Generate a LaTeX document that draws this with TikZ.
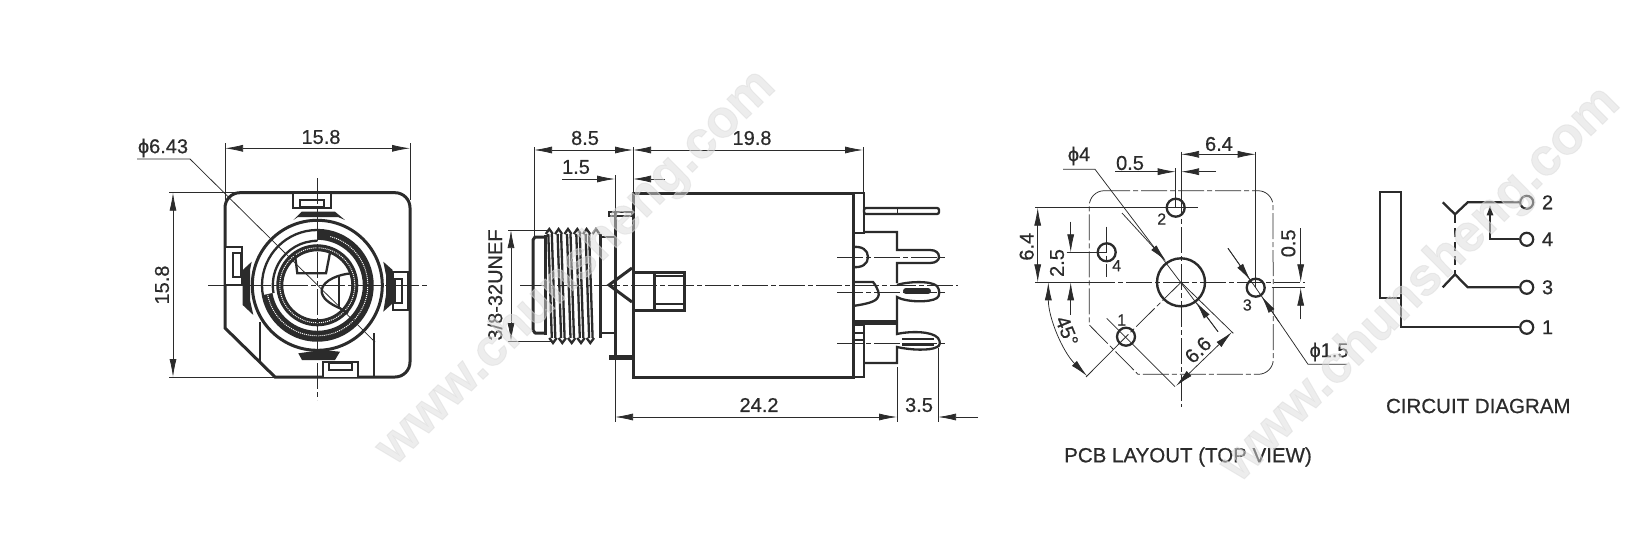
\documentclass[tikz,border=0pt]{standalone}
\usepackage{fontspec}
\setmainfont{Liberation Sans}
\newfontfamily\labelfont[FakeBold=0.6]{Liberation Sans}
\newfontfamily\markfont[UprightFont=* Bold,FakeBold=2]{Liberation Sans}
\usetikzlibrary{calc,positioning,arrows.meta}
\definecolor{inkgray}{gray}{0.17}
\tikzset{
  part/.style={line width=2.3pt},
  thick part/.style={line width=3pt},
  thin part/.style={line width=0.8pt},
  dim/.style={line width=0.75pt,{Latex[length=18pt,width=7pt]}-{Latex[length=18pt,width=7pt]}},
  dim in/.style={line width=0.75pt,-{Latex[length=18pt,width=7pt]}},
  ext/.style={line width=0.75pt},
  axis/.style={line width=0.75pt,dash pattern=on 26pt off 3pt on 5pt off 3pt},
  label/.style={inner sep=0pt,text=inkgray,font=\labelfont\fontsize{20}{20}\selectfont},
  small label/.style={inner sep=0pt,text=inkgray,font=\labelfont\fontsize{16}{16}\selectfont},
  title/.style={inner sep=0pt,text=inkgray,font=\labelfont\fontsize{20.5}{21}\selectfont},
  watermark/.style={inner sep=0pt,rotate=44.7,opacity=0.5,text=black!14,font=\markfont\fontsize{52.5}{53}\selectfont},
  pad/.style={circle,draw=inkgray,line width=2.2pt,fill=white,inner sep=0pt,minimum size=13pt},
}
\begin{document}
\begin{tikzpicture}[x=1pt,y=-1pt,color=inkgray]
	\useasboundingbox (0,0) rectangle (1644,555);
	% front view
	\begin{scope}
		\coordinate (fc) at (317.3,285.3);
		\draw[thick part] (240,192.7) -- (395,192.7) arc (-90:0:15) -- (410,362) arc (0:90:15) -- (275,377) -- (225,328) -- (225,207.7) arc (-180:-90:15);
		\draw[part,fill=white] (293.3,193) rectangle (330.7,208.3);
		\draw[part] (300,200) rectangle (324,207.3);
		\draw[part,fill=white] (225,246.7) rectangle (241.7,285);
		\draw[part] (233.3,253.3) rectangle (240.7,277.3);
		\draw[part,fill=white] (392.7,271.7) rectangle (408.3,310);
		\draw[part] (395,279.3) rectangle (401.7,303.3);
		\draw[part,fill=white] (322.7,377) -- (322.7,361.7) -- (358.3,361.7) -- (358.3,377);
		\draw[part] (329.3,363.3) rectangle (351.7,370);
		\draw[part] (260,322) -- (260,363);
		\draw[part] (374,333) -- (374,377);
		% lugs round the barrel
		\fill[inkgray] (293.3,220) -- (301.7,211.7) -- (335,211.7) -- (345,220) -- (338,217) -- (298,217) -- cycle;
		\fill[inkgray] (298.3,353.3) -- (302,360) -- (335,360) -- (340,351.7) -- (322,350) -- cycle;
		\fill[inkgray] (251.7,261.7) -- (242.7,270) -- (242.7,305) -- (253.3,315) -- (250,300) -- (250,270) -- cycle;
		\fill[inkgray] (383.3,261.7) -- (392.7,270) -- (392.7,303.3) -- (383.3,311.7) -- (386,295) -- (386,275) -- cycle;
		\draw[thick part,fill=white] (fc) circle (65);
		\draw[part] (fc) circle (55.3);
		\draw[line width=10pt] (fc)+(-90:50.5) arc (-90:170:50.5);
		\draw[line width=1pt,draw=white,densely dotted] (fc)+(-75:50.5) arc (-75:170:50.5);
		\draw[part] (fc)+(-90:44.5) arc (-90:-190:44.5);
		\draw[line width=7pt] (fc) circle (37.5);
		\draw[line width=1pt,draw=white,densely dotted] (fc) circle (37.5);
		\draw[axis] (208,285.3) -- (427,285.3);
		\draw[axis] (317.3,178) -- (317.3,400);
		% trapezoid and bean in the bore
		\draw[part] (295,255) -- (297.3,273.3) -- (326,273.3) -- (330,252.7);
		\draw[part] (351.7,273.3) .. controls (340,274) and (323,280) .. (321.7,290) .. controls (321,298) and (330,304) .. (340,308.3) -- (348,313.3);
		\draw[part] (339.3,277.3) -- (339.3,307.3);
		\draw[ext] (137,159) -- (190,159) -- (375,342);
		\draw[dim] (225,148.3) -- (410,148.3);
		\draw[ext] (225,143) -- (225,200);
		\draw[ext] (410,143) -- (410,200);
		\draw[dim] (173,192.7) -- (173,377);
		\draw[ext] (169,192.7) -- (240,192.7);
		\draw[ext] (169,377) -- (280,377);
		\node[label] (front width) at (321,137) {15.8};
		\node[label,rotate=90] (front height) at (162,285) {15.8};
		\node[label] (bore dia) at (163,148) {ϕ6.43};
	\end{scope}
	% side view
	\begin{scope}
		\draw[axis] (520,285) -- (958,285);
		\draw[axis] (837,257) -- (947,257);
		\draw[axis] (837,292) -- (947,292);
		\draw[axis] (837,343) -- (947,343);
		\draw[thick part] (633,193) rectangle (853,377);
		\draw[part] (853,193) -- (864,193) -- (864,233) -- (853,233);
		\draw[part] (853,325) -- (864,325) -- (864,377) -- (853,377);
		\draw[part] (853,333) -- (864,333);
		\draw[part] (853,340) -- (864,340);
		% thread and flange
		\draw[thick part] (615,212) -- (615,360);
		\draw[part] (609,212) rectangle (632,216);
		\fill[inkgray] (609,355) rectangle (632,360);
		\draw[thick part] (632,268) -- (609,285) -- (632,302);
		\draw[part] (600,237) -- (615,237);
		\draw[part] (600,333) -- (615,333);
		\draw[thick part,line join=round] (545,237) -- (535,237) -- (533,240) -- (533,330) -- (535,333) -- (545,333);
		\draw[thick part] (545,235) -- (545,335);
		\foreach \xa in {549.3,558.6,568,577.3,586.6,596}{
			\draw[part] (\xa-3.5,234) -- (\xa,229) -- (\xa+3.5,234);
		}
		\foreach \xa in {549.3,558.6,568,577.3,586.6}{
			\draw[part] (\xa-1,234) -- (\xa+2.5,338);
			\draw[part] (\xa+2.5,234) -- (\xa+6,338);
			\draw[part] (\xa,338) -- (\xa+3.7,343) -- (\xa+7.4,338);
		}
		\draw[thick part] (600,234) -- (600,338);
		% switch housing on the body
		\draw[thick part] (633,272) rectangle (684,310);
		\draw[thick part] (654,272) -- (654,310);
		\draw[part] (654,276) -- (684,276);
		\draw[part] (654,304) -- (684,304);
		% terminals
		\draw[part,rounded corners=2pt] (864,208) rectangle (939,214);
		\draw[thin part] (897,208) -- (897,214);
		\draw[part] (864,232) -- (897,232) -- (897,250) -- (930,250) .. controls (936,250) and (939,253) .. (939,257) .. controls (939,260) and (936,263) .. (930,263) -- (897,263) -- (897,283);
		\draw[part] (853,247) .. controls (862,246) and (868,250) .. (868,257) .. controls (868,264) and (862,268) .. (853,267);
		\draw[part] (853,282) -- (873,282) .. controls (878,288) and (880,295) .. (878,297) .. controls (876,302) and (866,304) .. (853,306);
		\draw[part] (897,285) .. controls (905,282) and (930,280) .. (937,286) .. controls (940,290) and (940,296) .. (937,298) .. controls (930,303) and (905,302) .. (897,297) -- (897,322);
		\draw[line width=6pt,line cap=round] (906,291) -- (928,291);
		\draw[line width=5pt] (853,322.5) -- (897,322.5);
		\draw[part] (897,322) -- (897,334) .. controls (910,331) and (932,331) .. (938,338) .. controls (941,342) and (940,346) .. (937,347) .. controls (930,351) and (910,350) .. (897,347) -- (897,363) -- (864,363);
		\draw[line width=2.5pt] (902,339) -- (934,339);
		\draw[line width=2.5pt] (902,344.5) -- (934,344.5);
		% dimensions
		\draw[ext] (534,147) -- (534,236);
		\draw[ext] (633,147) -- (633,193);
		\draw[ext] (863,147) -- (863,193);
		\draw[ext] (615,175) -- (615,422);
		\draw[ext] (897,367) -- (897,422);
		\draw[ext] (938,348) -- (938,422);
		\draw[dim] (534,150) -- (633,150);
		\draw[dim] (633,150) -- (863,150);
		\coordinate (thin left) at (562,179);
		\coordinate (thin right) at (665,179);
		\draw[dim in] (thin left) -- (615,179);
		\draw[dim in] (thin right) -- (633,179);
		\draw[dim] (615,417) -- (897,417);
		\coordinate (short right) at (978,417);
		\draw[dim in] (short right) -- (938,417);
		\draw[dim] (511,230) -- (511,341);
		\draw[ext] (508,230) -- (547,230);
		\draw[ext] (508,341) -- (553,341);
		\node[label] (nose len) at (585,138) {8.5};
		\node[label] (flange len) at (576,167) {1.5};
		\node[label] (body len) at (752,138) {19.8};
		\node[label] (total len) at (759,405) {24.2};
		\node[label] (pin len) at (919,405) {3.5};
		\node[label,rotate=90] (thread) at (495,285) {3/8-32UNEF};
	\end{scope}
	% pcb layout
	\begin{scope}
		\coordinate (pc) at (1181,282.3);
		\coordinate (h2) at (1175.7,207.7);
		\coordinate (h4) at (1106.7,252.3);
		\coordinate (h3) at (1255.7,287.7);
		\coordinate (h1) at (1126,336.7);
		\draw[axis] (1104,190.7) -- (1258,190.7) arc (-90:0:15) -- (1273.3,359.3) arc (0:90:15) -- (1138,374.3) -- (1089.3,325) -- (1089.3,205.7) arc (-180:-90:15);
		\draw[axis] (1181,190) -- (1181,406.7);
		\draw[ext] (1181,151.7) -- (1181,190);
		\draw[axis] (1089,282.3) -- (1305,282.3);
		\draw[ext] (1035,282.3) -- (1089,282.3);
		\draw[ext] (1035,207.7) -- (1175.7,207.7);
		\draw[axis] (1175.7,207.7) -- (1198,207.7);
		\draw[ext] (1175.7,168) -- (1175.7,207.7);
		\draw[ext] (1255.7,151.7) -- (1255.7,287.7);
		\draw[ext] (1066.7,252.3) -- (1106.7,252.3);
		\draw[axis] (1106.7,226.7) -- (1106.7,276.7);
		\draw[ext] (1271.7,287.7) -- (1305,287.7);
		% slanted lines
		\draw[axis] (pc) -- (h1);
		\draw[ext] (h1) -- (1086,377);
		\draw[ext] (1106.7,318.3) -- (1175,386.7);
		\draw[ext] (pc) -- (1233.3,333.3);
		\draw[ext] (1063,169.3) -- (1095,169.3) -- (1218,331.7);
		\draw[ext] (1228,248.3) -- (1255.7,287.7) -- (1308,364.3) -- (1347,364.3);
		\draw[line width=2.4pt] (pc) circle (24);
		\foreach \hname in {h1,h2,h3,h4}{
			\draw[part] (\hname) circle (9);
		}
		% dimensions
		\draw[dim] (1181,154.3) -- (1255.7,154.3);
		\draw[dim in] (1115,171.7) -- (1175.7,171.7);
		\draw[dim in] (1216,171.7) -- (1181,171.7);
		\draw[dim] (1037.7,207.7) -- (1037.7,282.3);
		\draw[dim in] (1070.7,221.7) -- (1070.7,252.3);
		\draw[dim in] (1070.7,315) -- (1070.7,282.3);
		\draw[dim in] (1300.7,228.3) -- (1300.7,282.3);
		\draw[dim in] (1300.7,319.3) -- (1300.7,287.7);
		\draw[dim in] (1122,213) -- (1166,261);
		\draw[dim in] (1218,331.7) -- (1196,302);
		\draw[dim in] (1228,248.3) -- (1250.5,280.5);
		\draw[dim in] (1279,322) -- (1261.5,296);
		\draw[dim] (1176,386) -- (1232,332);
		\draw[dim] (pc)+(180:132.7) arc (180:135:132.7);
		\node[label] (pcb width) at (1219,144) {6.4};
		\node[label] (pcb off) at (1130,163) {0.5};
		\node[label] (pad big) at (1079,156) {ϕ4};
		\node[label,rotate=90] (pcb high) at (1026.7,246.7) {6.4};
		\node[label,rotate=90] (pcb mid) at (1057,263) {2.5};
		\node[label,rotate=90] (pcb offr) at (1288.3,243.3) {0.5};
		\node[label] (pad small) at (1329,352) {ϕ1.5};
		\node[label,rotate=-68] (pcb ang) at (1067,331) {45°};
		\node[label,rotate=45] (pcb diag) at (1198,350) {6.6};
		\node[small label] (n2) at (1161.7,219) {2};
		\node[small label] (n4) at (1116.7,265.7) {4};
		\node[small label] (n3) at (1247.3,305) {3};
		\node[small label] (n1) at (1121.7,320) {1};
		\node[title] (pcb title) at (1188,457) {PCB LAYOUT (TOP VIEW)};
	\end{scope}
	% circuit diagram
	\begin{scope}
		\node[pad] (p2) at (1526.7,202.3) {};
		\node[pad] (p4) at (1526.7,239.3) {};
		\node[pad] (p3) at (1526.7,287.3) {};
		\node[pad] (p1) at (1526.7,327.3) {};
		\coordinate (up y) at (1467.7,202.3);
		\coordinate (low y) at (1467.7,287.3);
		\coordinate (up v) at (1455,214.3);
		\coordinate (low v) at (1455,274.3);
		\coordinate (wiper) at (1490,239.3);
		\coordinate (wiper end) at (1490,203.3);
		\draw[part] (1380,192.3) rectangle (1400.7,298.3);
		\draw[part] (1400.7,298.3) |- (p1);
		\draw[part] (1442.7,202.3) -- (up v) -- (up y) -- (p2);
		\draw[part] (1442.7,287.3) -- (low v) -- (low y) -- (p3);
		\draw[part,dash pattern=on 9pt off 5pt] (up v) -- (low v);
		\draw[part,-{Latex[length=12pt,width=7pt]}] (p4) -- (wiper) -- (wiper end);
		\node[label,right=7.5pt of p2] (t2) {2};
		\node[label,right=7.5pt of p4] (t4) {4};
		\node[label,right=7.5pt of p3] (t3) {3};
		\node[label,right=7.5pt of p1] (t1) {1};
		\node[title] (circuit title) at (1478.3,406) {CIRCUIT DIAGRAM};
	\end{scope}
	% maker's mark laid over the drawing
	\node[watermark] (mark one) at (576.5,268) {www.chunsheng.com};
	\node[watermark] (mark two) at (1421,285) {www.chunsheng.com};
\end{tikzpicture}
\end{document}
